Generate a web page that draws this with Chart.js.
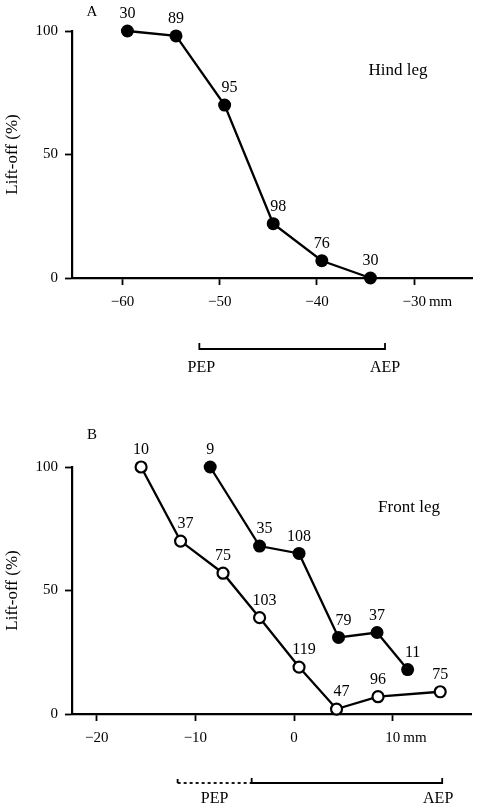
<!DOCTYPE html>
<html><head><meta charset="utf-8">
<script src="https://cdn.jsdelivr.net/npm/chart.js@4.4.0/dist/chart.umd.min.js"></script>
<style>
html,body{margin:0;padding:0;background:#fff;width:479px;height:812px;overflow:hidden}
#wa{position:absolute;left:0;top:0;width:479px;height:400px}
#wb{position:absolute;left:0;top:400px;width:479px;height:412px}
</style></head><body>
<div id="wa"><canvas id="ca"></canvas></div>
<div id="wb"><canvas id="cb"></canvas></div>
<script>
// ---- data ----
const yTicks = [0, 50, 100];
// Panel A: hind leg
const hindX = [-59.5, -54.5, -49.5, -44.5, -39.5, -34.5];
const hindY = [100, 98, 70, 22, 7, 0];
const hindN = [30, 89, 95, 98, 76, 30];
const hindTicks = [-60, -50, -40, -30];
const hindBracket = [-52.1, -33];          // PEP, AEP
// Panel B: front leg
const frontOpenX = [-15.5, -11.5, -7.2, -3.5, 0.5, 4.3, 8.5, 14.8];
const frontOpenY = [100, 70, 57, 39, 19, 2, 7, 9];
const frontOpenN = [10, 37, 75, 103, 119, 47, 96, 75];
const frontFilledX = [-8.5, -3.5, 0.5, 4.5, 8.4, 11.5];
const frontFilledY = [100, 68, 65, 31, 33, 18];
const frontFilledN = [9, 35, 108, 79, 37, 11];
const frontTicks = [-20, -10, 0, 10];
const frontBracket = [-11.8, -4.3, 15];    // PEP range start, PEP range end, AEP

const SERIF = "'Liberation Serif', 'DejaVu Serif', serif";
const pts = (xs, ys) => xs.map((x, i) => ({x: x, y: ys[i]}));
const fmt = v => v < 0 ? '\u2212' + Math.abs(v) : String(v);

const labelPlugin = {
  id: 'nlabels',
  afterDatasetsDraw(chart) {
    const ctx = chart.ctx;
    ctx.save();
    ctx.fillStyle = '#000';
    ctx.font = '16px ' + SERIF;
    ctx.textAlign = 'center';
    ctx.textBaseline = 'middle';
    chart.data.datasets.forEach((ds, di) => {
      const meta = chart.getDatasetMeta(di);
      meta.data.forEach((el, i) => {
        let dx = 0;
        if (i > 0) {
          const p = meta.data[i - 1];
          const slope = (el.y - p.y) / Math.max(1, el.x - p.x);
          if (slope > 1) dx = 5;
        }
        ctx.fillText(String(ds.counts[i]), el.x + dx, el.y - 17);
      });
    });
    ctx.restore();
  }
};

const annotPlugin = {
  id: 'annot',
  afterDraw(chart, args, o) {
    const ctx = chart.ctx, ca = chart.chartArea, xs = chart.scales.x;
    ctx.save();
    ctx.fillStyle = '#000'; ctx.strokeStyle = '#000';
    // y axis title
    ctx.save();
    ctx.translate(13, (ca.top + ca.bottom) / 2);
    ctx.rotate(-Math.PI / 2);
    ctx.font = '17px ' + SERIF;
    ctx.textAlign = 'center'; ctx.textBaseline = 'middle';
    ctx.fillText('Lift-off (%)', 0, 0);
    ctx.restore();
    // panel letter
    ctx.font = '15px ' + SERIF;
    ctx.textAlign = 'center'; ctx.textBaseline = 'middle';
    ctx.fillText(o.letter, 92, o.letterY);
    // leg name
    ctx.font = '17px ' + SERIF;
    ctx.fillText(o.leg, o.legX, o.legY);
    // "mm" after the last tick label
    const last = o.ticks[o.ticks.length - 1];
    ctx.font = '15px ' + SERIF;
    const w = ctx.measureText(fmt(last)).width;
    ctx.textAlign = 'left';
    ctx.fillText('mm', xs.getPixelForValue(last) + w / 2 + 3, ca.bottom + 7 + 8 + 9);
    // bracket
    ctx.lineWidth = 1.8;
    const by = o.bracketY;
    const b = o.bracket.map(v => xs.getPixelForValue(v));
    ctx.textAlign = 'center';
    ctx.font = '16px ' + SERIF;
    if (b.length === 2) {
      ctx.beginPath();
      ctx.moveTo(b[0], by - 6); ctx.lineTo(b[0], by); ctx.lineTo(b[1], by); ctx.lineTo(b[1], by - 6);
      ctx.stroke();
      ctx.fillText('PEP', b[0] + 2, by + 19);
      ctx.fillText('AEP', b[1], by + 19);
    } else {
      ctx.beginPath();
      ctx.setLineDash([3, 3]);
      ctx.moveTo(b[0], by); ctx.lineTo(b[1], by);
      ctx.stroke();
      ctx.setLineDash([]);
      ctx.beginPath();
      ctx.moveTo(b[0], by - 4); ctx.lineTo(b[0], by);
      ctx.moveTo(b[1], by - 5); ctx.lineTo(b[1], by); ctx.lineTo(b[2], by); ctx.lineTo(b[2], by - 5);
      ctx.stroke();
      ctx.fillText('PEP', (b[0] + b[1]) / 2, by + 16);
      ctx.fillText('AEP', b[2] - 4, by + 16);
    }
    ctx.restore();
  }
};

function axisCommon() {
  return {
    grid: {display: true, drawOnChartArea: false, drawTicks: true, tickLength: 7, tickColor: '#000', tickWidth: 1.8},
    border: {display: true, color: '#000', width: 2.2},
    ticks: {color: '#000', font: {family: SERIF, size: 15}, padding: 7, callback: v => fmt(v)}
  };
}

function makeChart(id, datasets, cfg) {
  const x = axisCommon();
  x.type = 'linear'; x.min = cfg.xmin; x.max = cfg.xmax;
  x.ticks.padding = 8; x.ticks.maxRotation = 0;
  x.afterBuildTicks = s => { s.ticks = cfg.ticks.map(v => ({value: v})); };
  x.afterFit = s => { s.height = cfg.xh; };
  const y = axisCommon();
  y.type = 'linear'; y.min = 0; y.max = 100;
  y.afterBuildTicks = s => { s.ticks = yTicks.map(v => ({value: v})); };
  y.afterFit = s => { s.width = 72; };
  return new Chart(document.getElementById(id), {
    type: 'scatter',
    data: {datasets: datasets},
    options: {
      responsive: true, maintainAspectRatio: false, animation: false,
      layout: {padding: {top: cfg.top, right: 4, left: 0, bottom: 0}},
      scales: {x: x, y: y},
      plugins: {legend: {display: false}, tooltip: {enabled: false},
        annot: cfg.annot}
    },
    plugins: [labelPlugin, annotPlugin]
  });
}

const filledStyle = {showLine: true, clip: false, borderColor: '#000', borderWidth: 2.3,
  pointBackgroundColor: '#000', pointBorderColor: '#000', pointBorderWidth: 0, pointRadius: 6.5};
const openStyle = {showLine: true, clip: false, borderColor: '#000', borderWidth: 2.3,
  pointBackgroundColor: '#fff', pointBorderColor: '#000', pointBorderWidth: 2.2, pointRadius: 5.5};

makeChart('ca', [
  Object.assign({label: 'Hind leg', data: pts(hindX, hindY), counts: hindN}, filledStyle)
], {xmin: -65.2, xmax: -24, ticks: hindTicks, top: 31, xh: 122,
  annot: {letter: 'A', letterY: 12, leg: 'Hind leg', legX: 398, legY: 71,
    ticks: hindTicks, bracket: hindBracket, bracketY: 349}});

makeChart('cb', [
  Object.assign({label: 'Front leg (filled)', data: pts(frontFilledX, frontFilledY), counts: frontFilledN}, filledStyle),
  Object.assign({label: 'Front leg (open)', data: pts(frontOpenX, frontOpenY), counts: frontOpenN}, openStyle)
], {xmin: -22.5, xmax: 17.95, ticks: frontTicks, top: 67, xh: 98,
  annot: {letter: 'B', letterY: 35, leg: 'Front leg', legX: 409, legY: 108,
    ticks: frontTicks, bracket: frontBracket, bracketY: 383}});
</script>
</body></html>
